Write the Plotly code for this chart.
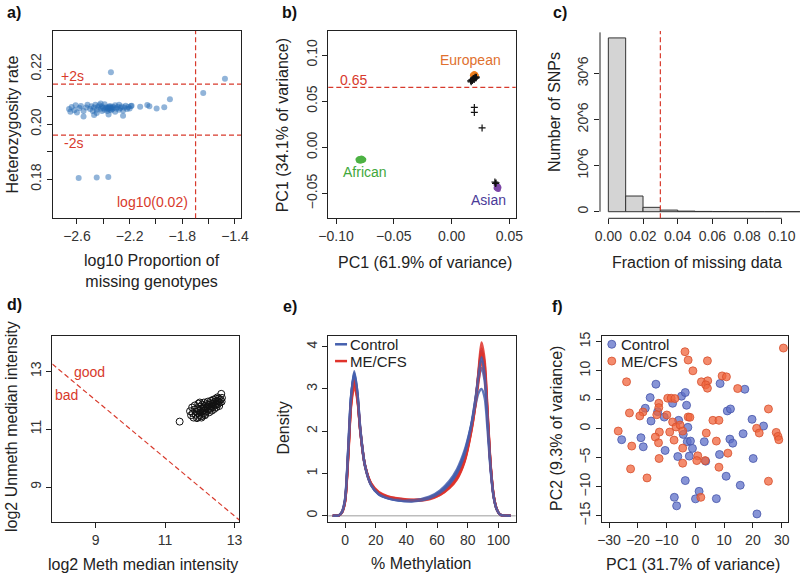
import plotly.graph_objects as go

FONT = "Liberation Sans, Arial, Helvetica, sans-serif"
W, H = 800, 575

# ---------------- data ----------------
# a) heterozygosity vs log10 missingness
het_missing = [-2.66, -2.65, -2.64, -2.62, -2.61, -2.60, -2.58, -2.57, -2.55, -2.55, -2.53, -2.52,
               -2.50, -2.49, -2.48, -2.47, -2.46, -2.45, -2.45, -2.44, -2.43, -2.42, -2.41, -2.41,
               -2.40, -2.39, -2.39, -2.38, -2.37, -2.37, -2.36, -2.36, -2.35, -2.35, -2.34, -2.34,
               -2.33, -2.33, -2.32, -2.31, -2.31, -2.30, -2.29, -2.28, -2.28, -2.27, -2.26, -2.25,
               -2.24, -2.23, -2.22, -2.21, -2.20, -2.19, -2.36, -2.47, -2.25, -2.42, -2.37, -2.35,
               -2.185, -2.12, -2.066, -2.05, -1.995, -1.937, -1.894,
               -2.342, -1.476, -1.641, -2.587, -2.45, -2.362]
het_rate = [0.2055, 0.2045, 0.2062, 0.2050, 0.2068, 0.2042, 0.2058, 0.2066, 0.2048, 0.2028, 0.2060, 0.2070,
            0.2055, 0.2065, 0.2048, 0.2060, 0.2070, 0.2052, 0.2040, 0.2062, 0.2068, 0.2056, 0.2048, 0.2064,
            0.2058, 0.2052, 0.2072, 0.2060, 0.2055, 0.2048, 0.2062, 0.2057, 0.2053, 0.2066, 0.2058, 0.2050,
            0.2063, 0.2055, 0.2060, 0.2068, 0.2045, 0.2057, 0.2062, 0.2052, 0.2070, 0.2058, 0.2064, 0.2049,
            0.2060, 0.2067, 0.2055, 0.2062, 0.2057, 0.2066, 0.2035, 0.2033, 0.2030, 0.2075, 0.2059, 0.2061,
            0.2067, 0.2063, 0.2069, 0.2065, 0.2057, 0.2061, 0.2090,
            0.2188, 0.2165, 0.2113, 0.1804, 0.1806, 0.1808]
het_plus2s = 0.2145
het_minus2s = 0.1960
miss_cut = -1.699  # log10(0.02)

# b) ancestry PCA
eur_pc1 = [0.0185, 0.0195, 0.0205, 0.0190, 0.0200, 0.0210, 0.0195, 0.0205, 0.0215, 0.0180]
eur_pc2 = [0.0790, 0.0800, 0.0795, 0.0775, 0.0780, 0.0785, 0.0765, 0.0770, 0.0775, 0.0780]
afr_pc1 = [-0.0810, -0.0800, -0.0790, -0.0780, -0.0770, -0.0760, -0.0805, -0.0790, -0.0775, -0.0765, -0.0785]
afr_pc2 = [-0.0130, -0.0120, -0.0125, -0.0115, -0.0120, -0.0130, -0.0145, -0.0150, -0.0145, -0.0140, -0.0138]
asn_pc1 = [0.0385, 0.0395, 0.0405, 0.0390, 0.0400, 0.0410, 0.0395, 0.0405, 0.0385]
asn_pc2 = [-0.0405, -0.0415, -0.0420, -0.0430, -0.0440, -0.0435, -0.0450, -0.0455, -0.0440]
smp_pc1 = [0.0165, 0.0175, 0.0185, 0.0170, 0.0190, 0.0200, 0.0180, 0.0195, 0.0205, 0.0210, 0.0215,
           0.0197, 0.0197, 0.0264, 0.0375, 0.0380, 0.0385]
smp_pc2 = [0.0720, 0.0730, 0.0740, 0.0710, 0.0745, 0.0750, 0.0725, 0.0735, 0.0760, 0.0750, 0.0760,
           0.0432, 0.0378, 0.0210, -0.0375, -0.0390, -0.0385]
pca_cut = 0.065

# c) histogram of SNP missingness (counts in millions)
miss_bin_start = [0.00, 0.01, 0.02, 0.03, 0.04, 0.05, 0.06, 0.07, 0.08, 0.09, 0.10, 0.11]
snp_counts = [37.7, 3.4, 0.95, 0.35, 0.13, 0.06, 0.04, 0.03, 0.02, 0.015, 0.01, 0.01]
miss_data_cut = 0.03

# d) QC median intensities
meth_med = [11.42, 11.72, 11.75, 11.78, 11.80, 11.82, 11.85, 11.86, 11.88, 11.90, 11.92, 11.93, 11.95,
            11.96, 11.98, 12.00, 12.01, 12.03, 12.04, 12.06, 12.07, 12.08, 12.10, 12.11, 12.12, 12.14,
            12.15, 12.16, 12.18, 12.19, 12.20, 12.22, 12.23, 12.24, 12.26, 12.27, 12.28, 12.30, 12.31,
            12.32, 12.34, 12.35, 12.36, 12.38, 12.39, 12.40, 12.42, 12.43, 12.44, 12.46, 12.47, 12.48,
            12.50, 12.51, 12.52, 12.54, 12.55, 12.56, 12.58, 12.60, 12.62, 12.63, 12.64, 12.00, 11.95,
            12.05, 12.15]
unmeth_med = [11.26, 11.62, 11.48, 11.75, 11.55, 11.40, 11.68, 11.82, 11.50, 11.60, 11.38, 11.72, 11.55,
              11.88, 11.64, 11.48, 11.78, 11.58, 11.70, 11.45, 11.85, 11.62, 11.74, 11.55, 11.92, 11.66,
              11.80, 11.52, 11.72, 11.86, 11.62, 11.78, 11.95, 11.68, 11.84, 11.58, 11.74, 11.90, 11.70,
              11.98, 11.80, 11.64, 11.88, 11.76, 12.02, 11.84, 11.70, 11.94, 11.82, 12.05, 11.88, 11.76,
              11.98, 12.10, 11.86, 11.96, 12.06, 11.80, 11.92, 12.02, 12.22, 11.95, 12.08, 11.92, 11.42,
              11.40, 11.48]
qc_cut_sum = 21.0  # (meth + unmeth) / 2 = 10.5

# e) methylation density curves
meth_pct = [-8, -4, -2, 0, 2, 4, 6, 8, 10, 13, 17, 22, 28, 35, 45, 55, 62, 68, 73, 78, 82, 85, 87,
            89, 91, 93, 95, 97, 99, 101, 104, 108]
control_dens = [
    [0, 0.01, 0.08, 0.35, 1.45, 2.8, 3.42, 2.95, 2.05, 1.2, 0.74, 0.52, 0.42, 0.37, 0.35, 0.42, 0.55, 0.75,
     1.0, 1.45, 2.05, 2.75, 3.35, 3.90, 3.45, 2.3, 1.15, 0.45, 0.15, 0.03, 0.003, 0],
    [0, 0.01, 0.09, 0.38, 1.5, 2.85, 3.35, 2.9, 2.0, 1.18, 0.72, 0.50, 0.41, 0.36, 0.35, 0.43, 0.57, 0.78,
     1.05, 1.5, 2.1, 2.75, 3.2, 3.50, 3.2, 2.2, 1.1, 0.43, 0.14, 0.03, 0.003, 0],
    [0, 0.01, 0.1, 0.4, 1.55, 2.85, 3.30, 2.85, 1.98, 1.17, 0.72, 0.51, 0.42, 0.38, 0.37, 0.45, 0.60, 0.82,
     1.1, 1.55, 2.1, 2.6, 2.9, 3.0, 2.8, 2.0, 1.05, 0.42, 0.14, 0.03, 0.003, 0],
    [0, 0.01, 0.08, 0.36, 1.45, 2.8, 3.38, 2.95, 2.05, 1.2, 0.73, 0.51, 0.41, 0.36, 0.34, 0.41, 0.54, 0.74,
     1.0, 1.45, 2.05, 2.7, 3.3, 3.75, 3.35, 2.25, 1.12, 0.44, 0.15, 0.03, 0.003, 0],
]
mecfs_dens = [
    [0, 0.01, 0.08, 0.33, 1.35, 2.65, 3.15, 2.8, 2.0, 1.2, 0.76, 0.55, 0.45, 0.40, 0.37, 0.40, 0.50, 0.66,
     0.88, 1.3, 1.95, 2.65, 3.4, 4.10, 3.7, 2.45, 1.2, 0.46, 0.15, 0.03, 0.003, 0],
    [0, 0.01, 0.08, 0.34, 1.4, 2.7, 3.25, 2.85, 2.02, 1.2, 0.75, 0.54, 0.44, 0.39, 0.36, 0.41, 0.52, 0.70,
     0.92, 1.35, 2.0, 2.7, 3.3, 3.85, 3.5, 2.35, 1.15, 0.45, 0.15, 0.03, 0.003, 0],
    [0, 0.01, 0.07, 0.32, 1.3, 2.6, 3.05, 2.75, 1.98, 1.2, 0.77, 0.56, 0.46, 0.41, 0.38, 0.42, 0.52, 0.68,
     0.9, 1.32, 1.95, 2.6, 3.15, 3.65, 3.35, 2.3, 1.15, 0.45, 0.15, 0.03, 0.003, 0],
    [0, 0.01, 0.08, 0.34, 1.38, 2.68, 3.2, 2.82, 2.0, 1.19, 0.74, 0.53, 0.43, 0.38, 0.35, 0.39, 0.49, 0.65,
     0.86, 1.28, 1.92, 2.62, 3.35, 3.95, 3.6, 2.4, 1.18, 0.46, 0.15, 0.03, 0.003, 0],
]

# f) methylation PCA
ctrl_pc1 = [-13.7, -15.7, -17.4, -13.1, -15.4, -4.8, -3.5, -7.9, -3.05, -5.8, -2.6, -18.9, -25.6, -18.1,
            -10.5, -2.8, -1.7, -1.0, -6.1, -2.1, 3.1, 3.6, 8.6, 17.2, 11.1, 12.2, 8.4, 12.0, 13.0, 16.6,
            19.7, 23.7, 20.1, 10.7, 15.6, -3.5, -7.3, -6.5, 1.3, 0.05, 7.3, 21.4, -10.8, -4.2]
ctrl_pc2 = [7.67, 5.36, 3.52, 2.94, 1.32, 5.6, 6.23, 4.38, 4.04, 1.44, 0.23, -1.56, -1.9, -3.12,
            -3.75, -2.25, -2.14, -3.4, -4.8, -4.73, -2.25, -5.6, 7.79, 6.8, 3.06, 3.4, -4.45, -1.8, -2.5, -0.87,
            1.61, 0.46, -5.14, -8.2, -9.75, -8.95, -11.83, -13.3, -10.8, -12.1, -12.06, -14.7, 2.0, -0.99]
me_pc1 = [-3.6, -2.5, 4.2, -0.85, -23.9, 2.1, 4.3, 3.6, 4.2, 9.3, 10.8, 14.7, 30.6, -9.6, -8.4, -7.1,
          -12.7, -12.7, -18.2, -19.3, -22.9, -9.9, -13.4, -2.5, -1.9, -7.9, -6.7, -5.3, -4.4, -8.9, -12.5,
          -13.9, -12.8, -7.4, -26.8, -22.1, -12.6, -22.5, -16.8, -4.4, 0.85, 0.5, 3.8, 6.1, 8.2, 7.3, 11.3,
          8.2, 1.9, 21.3, 22.2, 25.4, 28.1, 28.7, 29.0, 25.4, -4.4, 3.4]
me_pc2 = [13.27, 11.83, 11.7, 9.98, 8.08, 8.08, 8.25, 7.56, 6.98, 9.1, 8.94, 6.92, 13.9, 5.25, 5.25, 5.19,
          4.38, 3.63, 2.88, 2.19, 2.71, 2.36, 2.4, 2.02, 1.96, 1.15, 0.29, 0.63, -0.41, -0.58, -0.58,
          -1.45, -2.43, -1.97, -0.41, -3.0, -5.14, -6.93, -8.49, -5.95, -4.68, -5.5, -0.75, 1.44, 1.44, -2.14, -4.22,
          -6.64, -11.83, 0.06, -0.75, 3.4, -0.64, -1.33, -1.9, -9.06, -3.35, -5.5]

# ---------------- styles ----------------
RED = "#D83A2C"
DASH = "5px,3px"
C_BLUE = "#4560AE"
C_RED = "#E0332B"


def xdom(a, b):
    return [a / W, b / W]


def ydom(top, bottom):
    return [1 - bottom / H, 1 - top / H]


def axis(dom, rng, tickvals, ticktext=None, anchor=None, yaxis=False, box=True):
    d = dict(domain=dom, range=rng, tickmode="array", tickvals=tickvals,
             showgrid=False, zeroline=False, showline=box, mirror=box, automargin=False,
             linecolor="#222", linewidth=1, ticks="outside", ticklen=5,
             tickwidth=1, tickcolor="#222",
             tickfont=dict(size=14, color="#333", family=FONT), anchor=anchor)
    if ticktext is not None:
        d["ticktext"] = ticktext
    if yaxis:
        d["tickangle"] = -90
    return d


fig = go.Figure()

# a)
fig.add_trace(go.Scatter(x=het_missing, y=het_rate, mode="markers", xaxis="x", yaxis="y",
                         marker=dict(size=6, color="rgba(35,105,180,0.5)", line=dict(width=0)),
                         showlegend=False))

# b)
fig.add_trace(go.Scatter(x=eur_pc1, y=eur_pc2, mode="markers", xaxis="x2", yaxis="y2",
                         marker=dict(size=5, color="#EE7F1E"), showlegend=False))
fig.add_trace(go.Scatter(x=afr_pc1, y=afr_pc2, mode="markers", xaxis="x2", yaxis="y2",
                         marker=dict(size=5, color="#4DB244"), showlegend=False))
fig.add_trace(go.Scatter(x=asn_pc1, y=asn_pc2, mode="markers", xaxis="x2", yaxis="y2",
                         marker=dict(size=5, color="#7D46A6"), showlegend=False))
fig.add_trace(go.Scatter(x=smp_pc1, y=smp_pc2, mode="markers", xaxis="x2", yaxis="y2",
                         marker=dict(size=5, symbol="cross-thin", line=dict(width=1.2, color="#111")),
                         showlegend=False))

# c)
fig.add_trace(go.Bar(x=miss_bin_start, y=snp_counts, offset=0, width=0.01, xaxis="x3", yaxis="y3",
                     marker=dict(color="#D4D4D4", line=dict(color="#333", width=1)), showlegend=False))

# d)
fig.add_trace(go.Scatter(x=meth_med, y=unmeth_med, mode="markers", xaxis="x4", yaxis="y4",
                         marker=dict(size=7, symbol="circle-open", color="#111", line=dict(width=1)),
                         showlegend=False))

# e)
for rc, cc in zip(mecfs_dens, control_dens):
    fig.add_trace(go.Scatter(x=meth_pct, y=rc, mode="lines", xaxis="x5", yaxis="y5",
                             line=dict(color=C_RED, width=2.4, shape="spline", smoothing=0.8),
                             opacity=0.85, showlegend=False))
    fig.add_trace(go.Scatter(x=meth_pct, y=cc, mode="lines", xaxis="x5", yaxis="y5",
                             line=dict(color=C_BLUE, width=2.4, shape="spline", smoothing=0.8),
                             opacity=0.85, showlegend=False))

# f)
fig.add_trace(go.Scatter(x=ctrl_pc1, y=ctrl_pc2, mode="markers", xaxis="x6", yaxis="y6", name="Control",
                         marker=dict(size=8, color="rgba(95,112,200,0.75)",
                                     line=dict(width=1, color="rgba(70,85,170,0.8)")),
                         showlegend=False))
fig.add_trace(go.Scatter(x=me_pc1, y=me_pc2, mode="markers", xaxis="x6", yaxis="y6", name="ME/CFS",
                         marker=dict(size=8, color="rgba(240,100,60,0.75)",
                                     line=dict(width=1, color="rgba(215,80,45,0.8)")),
                         showlegend=False))

TOP = ydom(31, 218.3)
BOT = ydom(335.7, 522.3)

layout = dict(
    width=W, height=H, margin=dict(l=0, r=0, t=0, b=0, autoexpand=False),
    paper_bgcolor="white", plot_bgcolor="white", showlegend=False,
    font=dict(family=FONT, color="#222"),
    xaxis=axis(xdom(53, 241), [-2.782, -1.354], [-2.6, -2.4, -2.2, -2.0, -1.8, -1.6, -1.4],
               ["−2.6", "", "−2.2", "", "−1.8", "", "−1.4"], anchor="y"),
    yaxis=axis(TOP, [0.1658, 0.2338], [0.18, 0.19, 0.20, 0.21, 0.22],
               ["0.18", "", "0.20", "", "0.22"], anchor="x", yaxis=True),
    xaxis2=axis(xdom(328.3, 515.7), [-0.1067, 0.0555], [-0.10, -0.05, 0.0, 0.05],
                ["−0.10", "−0.05", "0.00", "0.05"], anchor="y2"),
    yaxis2=axis(TOP, [-0.0768, 0.126], [-0.05, 0.0, 0.05, 0.10],
                ["−0.05", "0.00", "0.05", "0.10"], anchor="x2", yaxis=True),
    xaxis3=axis(xdom(600, 800), [-0.0048, 0.1105], [0, 0.02, 0.04, 0.06, 0.08, 0.10],
                ["0.00", "0.02", "0.04", "0.06", "0.08", "0.10"], anchor="y3", box=False),
    yaxis3=axis(TOP, [-1.43, 39.2], [0, 10, 20, 30], ["0", "10^6", "20^6", "30^6"],
                anchor="x3", yaxis=True, box=False),
    xaxis4=axis(xdom(52.3, 239.3), [7.75, 13.14], [9, 11, 13], anchor="y4"),
    yaxis4=axis(BOT, [7.78, 14.23], [9, 11, 13], anchor="x4", yaxis=True),
    xaxis5=axis(xdom(328.3, 515.7), [-10.9, 111.3], [0, 20, 40, 60, 80, 100], anchor="y5"),
    yaxis5=axis(BOT, [-0.156, 4.26], [0, 1, 2, 3, 4], anchor="x5", yaxis=True),
    xaxis6=axis(xdom(601.7, 788.3), [-32.54, 32.3], [-30, -20, -10, 0, 10, 20, 30], anchor="y6"),
    yaxis6=axis(BOT, [-16.14, 16.03], [-15, -10, -5, 0, 5, 10, 15], anchor="x6", yaxis=True),
)

shapes = []
# a) cut-off lines
for yv in (het_plus2s, het_minus2s):
    shapes.append(dict(type="line", xref="x domain", yref="y", x0=0, x1=1, y0=yv, y1=yv,
                       line=dict(color=RED, width=1.2, dash=DASH)))
shapes.append(dict(type="line", xref="x", yref="y domain", x0=miss_cut, x1=miss_cut, y0=0, y1=1,
                   line=dict(color=RED, width=1.2, dash=DASH)))
# b)
shapes.append(dict(type="line", xref="x2 domain", yref="y2", x0=0, x1=1, y0=pca_cut, y1=pca_cut,
                   line=dict(color=RED, width=1.2, dash=DASH)))
# c) R-style detached axis lines and cut-off
shapes.append(dict(type="line", xref="x3", yref="y3 domain", x0=0, x1=0.10, y0=0, y1=0,
                   line=dict(color="#222", width=1)))
shapes.append(dict(type="line", xref="x3 domain", yref="y3", x0=0, x1=0, y0=0, y1=38.9,
                   line=dict(color="#222", width=1)))
shapes.append(dict(type="line", xref="x3", yref="y3 domain", x0=miss_data_cut, x1=miss_data_cut,
                   y0=0, y1=1, line=dict(color=RED, width=1.2, dash=DASH)))
# d) good / bad boundary: meth + unmeth = 21
d_x0, d_x1 = 7.75, 13.14
shapes.append(dict(type="line", xref="x4", yref="y4", x0=d_x0, x1=d_x1,
                   y0=qc_cut_sum - d_x0, y1=qc_cut_sum - d_x1,
                   line=dict(color=RED, width=1.2, dash=DASH)))
# e) zero line + legend keys
shapes.append(dict(type="line", xref="x5 domain", yref="y5", x0=0, x1=1, y0=0, y1=0, layer="below",
                   line=dict(color="#BDBDBD", width=1.5)))
shapes.append(dict(type="line", xref="x5 domain", yref="y5 domain", x0=0.036, x1=0.100, y0=0.954, y1=0.954,
                   line=dict(color=C_BLUE, width=2.5)))
shapes.append(dict(type="line", xref="x5 domain", yref="y5 domain", x0=0.036, x1=0.100, y0=0.864, y1=0.864,
                   line=dict(color=C_RED, width=2.5)))
# f) legend keys
for yy, fc, lc in ((0.954, "rgba(95,112,200,0.75)", "rgba(70,85,170,0.8)"),
                   (0.864, "rgba(240,100,60,0.75)", "rgba(215,80,45,0.8)")):
    shapes.append(dict(type="circle", xref="x6 domain", yref="y6 domain", xsizemode="pixel",
                       ysizemode="pixel", xanchor=0.054, yanchor=yy, x0=-4, x1=4, y0=-4, y1=4,
                       fillcolor=fc, line=dict(color=lc, width=1)))
layout["shapes"] = shapes


def pann(text, px, py, size=16, color="#222", angle=0, bold=False, xa="center", ya="middle"):
    if bold:
        text = "<b>" + text + "</b>"
    return dict(text=text, x=px / W, y=1 - py / H, xref="paper", yref="paper", showarrow=False,
                font=dict(size=size, color=color, family=FONT), textangle=angle,
                xanchor=xa, yanchor=ya)


def dann(text, x, y, xr, yr, color=RED, size=14, xa="center", ya="middle"):
    return dict(text=text, x=x, y=y, xref=xr, yref=yr, showarrow=False,
                font=dict(size=size, color=color, family=FONT), xanchor=xa, yanchor=ya)


anns = [
    pann("a)", 14, 12, 16, "#111", bold=True),
    pann("b)", 289.5, 12, 16, "#111", bold=True),
    pann("c)", 559.5, 12, 16, "#111", bold=True),
    pann("d)", 14, 304, 16, "#111", bold=True),
    pann("e)", 289.5, 306, 16, "#111", bold=True),
    pann("f)", 557.5, 306, 16, "#111", bold=True),
    # axis titles
    pann("Heterozygosity rate", 12, 124.5, angle=-90),
    pann("log10 Proportion of<br>missing genotypes", 152, 271),
    pann("PC1 (34.1% of variance)", 283.3, 125, angle=-90),
    pann("PC1 (61.9% of variance)", 425, 262),
    pann("Number of SNPs", 555, 112, angle=-90),
    pann("Fraction of missing data", 697, 262),
    pann("log2 Unmeth median intensity", 11, 427, angle=-90),
    pann("log2 Meth median intensity", 143.3, 564),
    pann("Density", 283.3, 428.3, angle=-90),
    pann("% Methylation", 421.7, 563),
    pann("PC2 (9.3% of variance)", 556.7, 428.3, angle=-90),
    pann("PC1 (31.7% of variance)", 693.3, 564),
    # in-plot labels
    dann("+2s", -2.734, 0.2176, "x", "y", xa="left"),
    dann("-2s", -2.716, 0.1930, "x", "y", xa="left"),
    dann("log10(0.02)", -1.742, 0.1717, "x", "y", xa="right"),
    dann("0.65", -0.085, 0.0729, "x2", "y2"),
    dann("European", 0.0161, 0.0950, "x2", "y2", color="#E0702E"),
    dann("African", -0.0746, -0.0270, "x2", "y2", color="#3FA83C"),
    dann("Asian", 0.0322, -0.0570, "x2", "y2", color="#4A3A98"),
    dann("good", 8.81, 12.99, "x4", "y4"),
    dann("bad", 8.15, 12.18, "x4", "y4"),
    # legends
    dict(text="Control", x=0.105, y=0.954, xref="x5 domain", yref="y5 domain", showarrow=False,
         xanchor="left", yanchor="middle", font=dict(size=15, color="#222", family=FONT)),
    dict(text="ME/CFS", x=0.105, y=0.864, xref="x5 domain", yref="y5 domain", showarrow=False,
         xanchor="left", yanchor="middle", font=dict(size=15, color="#222", family=FONT)),
    dict(text="Control", x=0.094, y=0.954, xref="x6 domain", yref="y6 domain", showarrow=False,
         xanchor="left", yanchor="middle", font=dict(size=15, color="#222", family=FONT)),
    dict(text="ME/CFS", x=0.094, y=0.864, xref="x6 domain", yref="y6 domain", showarrow=False,
         xanchor="left", yanchor="middle", font=dict(size=15, color="#222", family=FONT)),
]
layout["annotations"] = anns

fig.update_layout(**layout)
fig.write_html("out.html", config={"displayModeBar": False},
               post_script="document.body.style.margin='0px';document.body.style.overflow='hidden';")
